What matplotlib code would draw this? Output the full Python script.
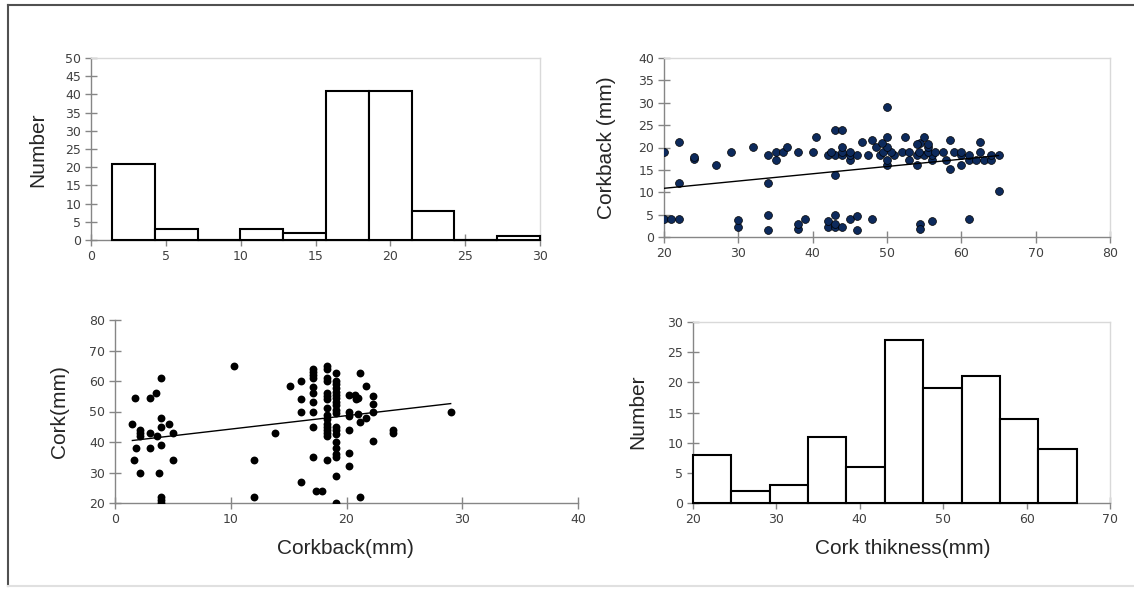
import numpy as np
import matplotlib
matplotlib.use('Agg')
import matplotlib.pyplot as plt
from matplotlib.lines import Line2D

plt.rcParams.update({'font.family': 'DejaVu Sans', 'font.size': 9})

W, H = 1134, 590
AX_GRAY, FRAME_GRAY, TICK_TXT = '#868686', '#d9d9d9', '#404040'
NAVY = '#0d2a5c'
LABEL_FONT = ['Liberation Sans', 'DejaVu Sans']

# ── histogram data ──
cb_edges = [1.4, 4.26, 7.12, 9.98, 12.84, 15.7, 18.56, 21.42, 24.28, 27.14, 30.0]
cb_counts = [21, 3, 0, 3, 2, 41, 41, 8, 0, 1]
cork_edges = [20, 24.6, 29.2, 33.8, 38.4, 43, 47.6, 52.2, 56.8, 61.4, 66]
cork_counts = [8, 2, 3, 11, 6, 27, 19, 21, 14, 9]

# ── paired measurements: corkback (mm) vs cork thickness (mm) ──
corkback = [
    4.0, 4.0, 4.0, 2.2, 3.8, 1.6, 5.0, 1.8, 3.0, 4.0, 2.2, 3.6,
    2.2, 3.0, 5.0, 2.2, 4.0, 4.7, 1.5, 4.0, 3.0, 1.7, 3.5, 4.0,
    10.3, 12.0, 12.0, 13.8, 15.1,
    16.1, 16.1, 16.1, 16.1,
    17.1, 17.1, 17.1, 17.1, 17.1, 17.1, 17.1, 17.1, 17.1, 17.1, 17.4, 17.9,
    18.3, 18.3, 18.3, 18.3, 18.3, 18.3, 18.3, 18.3,
    18.3, 18.3, 18.3, 18.3, 18.3, 18.3, 18.3, 18.3,
    19.1, 19.1, 19.1, 19.1, 19.1, 19.1, 19.1, 19.1, 19.1, 19.1,
    19.1, 19.1, 19.1, 19.1, 19.1, 19.1, 19.1, 19.1, 19.1, 19.1,
    20.2, 20.2, 20.2, 20.2, 20.2, 20.2,
    21.2, 21.2, 21.0, 21.0, 20.7, 20.8, 21.2,
    21.7, 21.7, 22.3, 22.3, 22.3, 22.3, 24.0, 24.0,
    29.0,
]
cork = [
    20, 21, 22, 30, 30, 34, 34, 38, 38, 39, 42, 42,
    43, 43, 43, 44, 45, 46, 46, 48, 54.5, 54.5, 56, 61,
    65, 34, 22, 43, 58.5,
    27, 50, 54, 60,
    35, 45, 50, 53, 56, 58, 61, 62, 63, 64, 24, 24,
    34, 42, 43, 44, 45, 46, 47.5, 49,
    51, 54, 55, 56, 60, 61, 64, 65,
    20, 29, 35, 36, 38, 40, 42.5, 44, 45, 49.5,
    50.5, 52, 53, 54.3, 55.5, 56.5, 57.6, 59, 60, 62.5,
    32, 36.5, 44, 48.5, 50, 55.5,
    22, 46.7, 49.3, 54.5, 55.5, 54, 62.5,
    48, 58.5, 40.4, 50, 52.4, 55, 43, 44,
    50,
]
corkback = np.array(corkback)
cork = np.array(cork)


def px_axes(fig, left, top, right, bottom):
    return fig.add_axes([left / W, 1 - bottom / H, (right - left) / W, (bottom - top) / H])


def excel_style(ax, frame=True):
    for s in ('left', 'bottom'):
        ax.spines[s].set_color(AX_GRAY)
        ax.spines[s].set_linewidth(1)
    for s in ('top', 'right'):
        ax.spines[s].set_color(FRAME_GRAY)
        ax.spines[s].set_linewidth(1)
        ax.spines[s].set_visible(frame)
    ax.tick_params(direction='inout', length=8, width=1, color=AX_GRAY,
                   labelsize=9, labelcolor=TICK_TXT, pad=3)


def hist(ax, edges, counts):
    e = np.array(edges)
    ax.bar(e[:-1], counts, width=np.diff(e), align='edge', color='white',
           edgecolor='black', linewidth=1.5, zorder=3, clip_on=False)
    # empty bins still show as a flat black outline on the baseline
    for x0, x1, c in zip(e[:-1], e[1:], counts):
        if c == 0:
            ax.plot([x0, x1], [0, 0], color='black', lw=1.5, zorder=4, clip_on=False)


def trend(ax, x, y):
    k, b = np.polyfit(x, y, 1)
    xs = np.array([x.min(), x.max()])
    ax.plot(xs, k * xs + b, color='black', lw=1, zorder=4)


def label(fig, x, y, text, rot=0):
    fig.text(x / W, 1 - y / H, text, rotation=rot, ha='center', va='center',
             fontsize=15, family=LABEL_FONT, color='#262626')


fig = plt.figure(figsize=(W / 100, H / 100), dpi=100)

# ── 1. Corkback histogram ──
a1 = px_axes(fig, 91, 58, 540, 240)
hist(a1, cb_edges, cb_counts)
a1.set(xlim=(0, 30), ylim=(0, 50), xticks=range(0, 31, 5), yticks=range(0, 51, 5))
excel_style(a1)
label(fig, 38, 150, 'Number', 90)

# ── 2. Corkback vs cork thickness ──
a2 = px_axes(fig, 664, 58, 1110, 237)
a2.scatter(cork, corkback, s=32, color=NAVY, edgecolor='black', linewidth=0.5, zorder=3)
trend(a2, cork, corkback)
a2.set(xlim=(20, 80), ylim=(0, 40), xticks=range(20, 81, 10), yticks=range(0, 41, 5))
excel_style(a2)
label(fig, 606, 148, 'Corkback (mm)', 90)

# ── 3. Cork vs corkback ──
a3 = px_axes(fig, 115, 320, 578, 503)
a3.scatter(corkback, cork, s=32, color='black', linewidth=0, zorder=3)
trend(a3, corkback, cork)
a3.set(xlim=(0, 40), ylim=(20, 80), xticks=range(0, 41, 10), yticks=range(20, 81, 10))
excel_style(a3, frame=False)
label(fig, 60, 412, 'Cork(mm)', 90)
label(fig, 345, 549, 'Corkback(mm)')

# ── 4. Cork thickness histogram ──
a4 = px_axes(fig, 693, 322, 1110, 503)
hist(a4, cork_edges, cork_counts)
a4.set(xlim=(20, 70), ylim=(0, 30), xticks=range(20, 71, 10), yticks=range(0, 31, 5))
excel_style(a4)
label(fig, 638, 412, 'Number', 90)
label(fig, 903, 549, 'Cork thikness(mm)')

# outer frame
fig.add_artist(Line2D([8 / W, 8 / W], [1 - 5 / H, 1 - 586 / H], color='#505050', lw=1.5))
fig.add_artist(Line2D([8 / W, 1], [1 - 5 / H, 1 - 5 / H], color='#505050', lw=1.5))
fig.add_artist(Line2D([8 / W, 1], [1 - 586 / H, 1 - 586 / H], color='#e0e0e0', lw=1.5))

fig.savefig('out.png', dpi=100)
